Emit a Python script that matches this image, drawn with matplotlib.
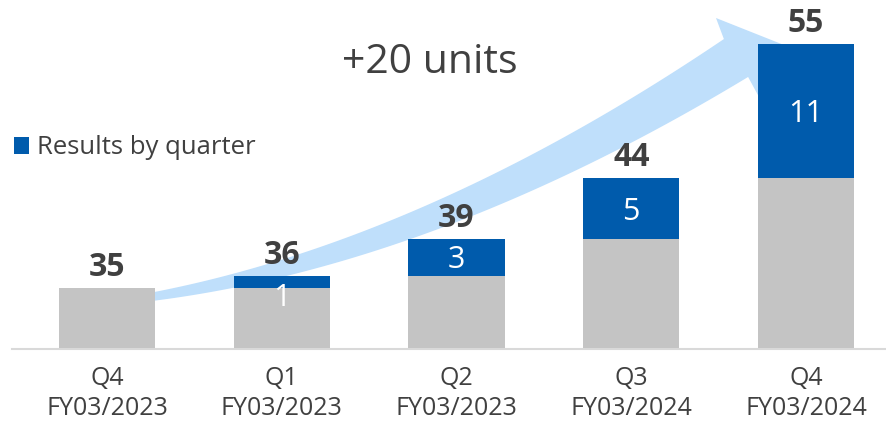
import numpy as np
import matplotlib
matplotlib.use('Agg')
import matplotlib.pyplot as plt
from matplotlib.patches import Polygon, Patch
from matplotlib.transforms import Affine2D

# ---- data ----
categories = ['Q4\nFY03/2023', 'Q1\nFY03/2023', 'Q2\nFY03/2023', 'Q3\nFY03/2024', 'Q4\nFY03/2024']
base_values = [35, 35, 36, 39, 44]
quarter_results = [0, 1, 3, 5, 11]
totals = [35, 36, 39, 44, 55]
result_labels = ['', '1', '3', '5', '11']
annotation_text = '+20 units'
legend_label = 'Results by quarter'

# ---- style ----
plt.rcParams['font.family'] = ['Open Sans', 'DejaVu Sans']
GREY = '#c4c4c4'
BLUE = '#005bac'
ARROW = '#bfdffb'
TEXT = '#404040'

W, H = 886, 423
fig = plt.figure(figsize=(W / 100, H / 100), dpi=100)
ax = fig.add_axes([0, (H - 349) / H, 1, 349 / H])
x = np.arange(len(categories))
ax.set_xlim(-107 / 174.75, 4 + 80 / 174.75)
ax.set_ylim(30, 30 + 349 / 12.2)
ax.axis('off')

# pixel transform (origin top-left) for decoration
pix = Affine2D().scale(1, -1).translate(0, H)

# ---- curved arrow (decoration) ----
P0 = np.array([130.0, 300.0]); P1 = np.array([420.0, 260.0]); P2 = np.array([736.0, 58.0])
t = np.linspace(0, 1, 120)[:, None]
pts = (1 - t) ** 2 * P0 + 2 * t * (1 - t) * P1 + t ** 2 * P2
der = 2 * (1 - t) * (P1 - P0) + 2 * t * (P2 - P1)
der /= np.linalg.norm(der, axis=1, keepdims=True)
nrm = np.column_stack([-der[:, 1], der[:, 0]])
wid = (7 + 38 * t) / 2
upper = pts - nrm * wid
lower = pts + nrm * wid
head = np.array([[716, 18], [784, 45], [759, 97]])
poly = np.vstack([upper, head, lower[::-1]])
ax.add_patch(Polygon(poly, closed=True, facecolor=ARROW, edgecolor='none',
                     transform=pix, zorder=1, clip_on=False))

# ---- bars ----
ax.bar(x, base_values, width=0.55, color=GREY, zorder=2)
ax.bar(x, quarter_results, bottom=base_values, width=0.55, color=BLUE, zorder=2)

# baseline
ax.axhline(30, xmin=12 / W, xmax=1, color='#d9d9d9', lw=1.5, zorder=3, clip_on=False)

# totals
for i, v in enumerate(totals):
    ax.annotate(str(v), xy=(i, v), xytext=(0, 8.6), textcoords='offset points',
                ha='center', va='baseline', fontsize=23, fontweight='bold', color=TEXT, zorder=5)

# increment labels
px_per_unit = 12.2
for i, (b, inc, lab) in enumerate(zip(base_values, quarter_results, result_labels)):
    if not lab:
        continue
    off = -7.8
    if inc * px_per_unit < 22:
        off -= 9.5
    ax.annotate(lab, xy=(i, b + inc / 2), xytext=(0, off), textcoords='offset points',
                ha='center', va='baseline', fontsize=22, color='white', zorder=5)

# category labels
for i, c in enumerate(categories):
    ax.annotate(c, xy=(i, 30), xytext=(0, -12), textcoords='offset points',
                ha='center', va='top', fontsize=18, color=TEXT, linespacing=1.3,
                annotation_clip=False)

# annotation text
fig.text(430, 73, annotation_text, transform=pix, ha='center', va='baseline',
         fontsize=29.5, color=TEXT)

# legend
fig.legend(handles=[Patch(facecolor=BLUE, edgecolor='none', label=legend_label)],
           loc='center left', bbox_to_anchor=(14 / W, (H - 148) / H), frameon=False,
           fontsize=18.5, handlelength=0.6, handleheight=0.6, handletextpad=0.3,
           borderpad=0, borderaxespad=0, labelcolor=TEXT)

fig.savefig('out.png', dpi=100)
